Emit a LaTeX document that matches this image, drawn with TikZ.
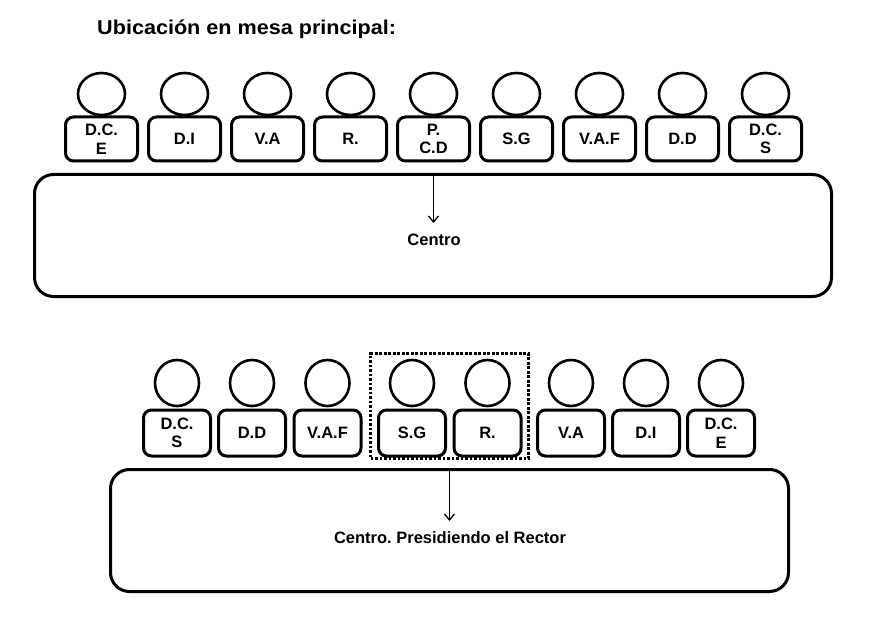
\documentclass[tikz,border=0pt]{standalone}
\usepackage{fontspec}
\setmainfont{Liberation Sans}
\usetikzlibrary{shapes.geometric,arrows.meta}
\begin{document}
\frenchspacing
\begin{tikzpicture}[x=1pt,y=-1pt,
  seatbox/.style={draw,line width=3pt,rounded corners=8pt,align=center,inner sep=0pt,
    font=\fontsize{16.5}{18.5}\selectfont\bfseries},
  seattop/.style={seatbox,minimum width=72pt,minimum height=44pt},
  seatbot/.style={seatbox,minimum width=67pt,minimum height=46pt},
  headtop/.style={draw,ellipse,line width=2.6pt,minimum width=47pt,minimum height=42pt,inner sep=0pt},
  headbot/.style={draw,ellipse,line width=2.6pt,minimum width=44pt,minimum height=46pt,inner sep=0pt},
  tablebox/.style={draw,line width=3pt,rounded corners=19pt,inner sep=0pt},
  tabletext/.style={font=\fontsize{16.5}{18}\selectfont\bfseries,inner sep=0pt},
  pointer/.style={line width=1.3pt,-{Straight Barb[length=6pt,width=10pt,line width=1.3pt]}},
  selbox/.style={draw,line width=2.6pt,dash pattern=on 2.6pt off 1.9pt,inner sep=0pt}
]
\useasboundingbox (0,0) rectangle (875,639);
\node[anchor=base west,inner sep=0pt,font=\fontsize{20}{22}\selectfont\bfseries,xscale=1.08,transform shape] (title) at (97,35) {Ubicación en mesa principal:};

% top row
\foreach \i/\lab in {0/{D.C.\\E},1/{D.I},2/{V.A},3/{R.},4/{P.\\C.D},5/{S.G},6/{V.A.F},7/{D.D},8/{D.C.\\S}}{
  \pgfmathsetmacro{\cx}{101.5+83*\i}
  \node[headtop] (th\i) at (\cx,94) {};
  \node[seattop] (tb\i) at (\cx,139) {\lab};
}
\node[tablebox,minimum width=797pt,minimum height=122pt] (tab1) at (433,235.5) {};
\coordinate (arr1) at (433.5,223);
\draw[pointer] (tab1.north -| tb4.south) -- (arr1);
\node[tabletext] (txt1) at (434,240) {Centro};

% bottom row
\foreach \i/\cx/\lab in {0/177/{D.C.\\S},1/252/{D.D},2/327.5/{V.A.F},3/412/{S.G},4/487.5/{R.},5/571/{V.A},6/646/{D.I},7/721/{D.C.\\E}}{
  \node[headbot] (bh\i) at (\cx,383) {};
  \node[seatbot] (bb\i) at (\cx,433) {\lab};
}
\node[selbox,minimum width=158pt,minimum height=105pt] (sel) at (449.5,406) {};
\node[tablebox,minimum width=678pt,minimum height=122pt] (tab2) at (449.5,530.5) {};
\coordinate (arr2) at (449.5,521);
\draw[pointer] (tab2.north -| sel.south) -- (arr2);
\node[tabletext] (txt2) at (450,538) {Centro. Presidiendo el Rector};
\end{tikzpicture}
\end{document}
